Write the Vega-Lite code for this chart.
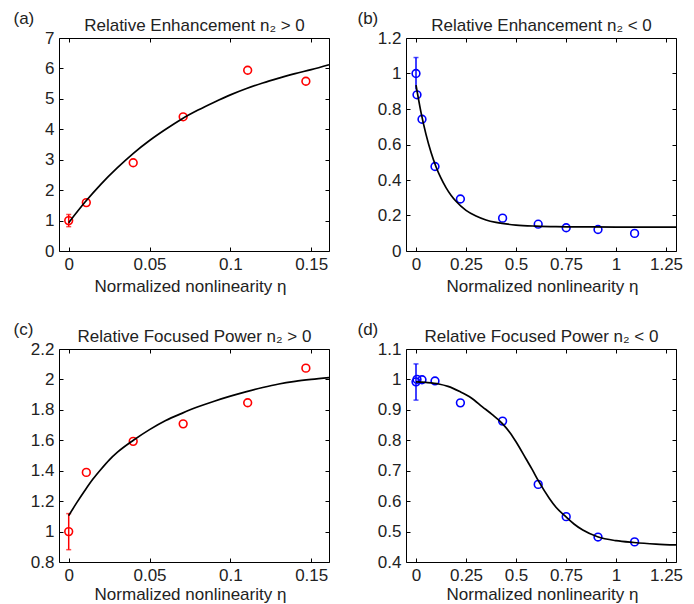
{
  "$schema": "https://vega.github.io/schema/vega-lite/v6.json",
  "background": "white",
  "padding": {"left": 12, "top": 8, "right": 0, "bottom": 0},
  "columns": 2,
  "spacing": {"row": 98, "column": 77},
  "bounds": "flush",
  "datasets": {
    "a_pts": [{"x": 0, "y": 1.0}, {"x": 0.0109, "y": 1.59}, {"x": 0.0399, "y": 2.9}, {"x": 0.0708, "y": 4.41}, {"x": 0.1107, "y": 5.94}, {"x": 0.1467, "y": 5.58}],
    "a_err": [{"x": 0, "lo": 0.8, "hi": 1.2}],
    "a_fit": [{"x": 0, "y": 0.93}, {"x": 0.01, "y": 1.6}, {"x": 0.02, "y": 2.2}, {"x": 0.03, "y": 2.73}, {"x": 0.04, "y": 3.21}, {"x": 0.05, "y": 3.63}, {"x": 0.06, "y": 4.0}, {"x": 0.07, "y": 4.34}, {"x": 0.08, "y": 4.63}, {"x": 0.09, "y": 4.89}, {"x": 0.1, "y": 5.13}, {"x": 0.11, "y": 5.34}, {"x": 0.12, "y": 5.52}, {"x": 0.13, "y": 5.68}, {"x": 0.14, "y": 5.83}, {"x": 0.15, "y": 5.96}, {"x": 0.161, "y": 6.12}],
    "b_pts": [{"x": 0, "y": 1.0}, {"x": 0.005, "y": 0.88}, {"x": 0.03, "y": 0.742}, {"x": 0.095, "y": 0.476}, {"x": 0.222, "y": 0.293}, {"x": 0.433, "y": 0.185}, {"x": 0.611, "y": 0.151}, {"x": 0.751, "y": 0.131}, {"x": 0.91, "y": 0.121}, {"x": 1.093, "y": 0.099}],
    "b_err": [{"x": 0, "lo": 0.91, "hi": 1.09}],
    "b_fit": [{"x": 0, "y": 0.935}, {"x": 0.025, "y": 0.781}, {"x": 0.05, "y": 0.657}, {"x": 0.075, "y": 0.556}, {"x": 0.1, "y": 0.475}, {"x": 0.125, "y": 0.41}, {"x": 0.15, "y": 0.357}, {"x": 0.175, "y": 0.314}, {"x": 0.2, "y": 0.28}, {"x": 0.25, "y": 0.229}, {"x": 0.3, "y": 0.197}, {"x": 0.35, "y": 0.175}, {"x": 0.4, "y": 0.161}, {"x": 0.5, "y": 0.146}, {"x": 0.6, "y": 0.14}, {"x": 0.7, "y": 0.137}, {"x": 0.8, "y": 0.136}, {"x": 1.0, "y": 0.135}, {"x": 1.3, "y": 0.135}],
    "c_pts": [{"x": 0, "y": 1.0}, {"x": 0.0109, "y": 1.389}, {"x": 0.0399, "y": 1.593}, {"x": 0.0708, "y": 1.708}, {"x": 0.1107, "y": 1.847}, {"x": 0.1467, "y": 2.074}],
    "c_err": [{"x": 0, "lo": 0.881, "hi": 1.118}],
    "c_fit": [{"x": 0, "y": 1.105}, {"x": 0.005, "y": 1.19}, {"x": 0.01, "y": 1.27}, {"x": 0.015, "y": 1.345}, {"x": 0.02, "y": 1.41}, {"x": 0.025, "y": 1.47}, {"x": 0.03, "y": 1.52}, {"x": 0.04, "y": 1.6}, {"x": 0.05, "y": 1.67}, {"x": 0.06, "y": 1.73}, {"x": 0.07, "y": 1.777}, {"x": 0.08, "y": 1.82}, {"x": 0.09, "y": 1.857}, {"x": 0.1, "y": 1.89}, {"x": 0.11, "y": 1.92}, {"x": 0.12, "y": 1.947}, {"x": 0.13, "y": 1.97}, {"x": 0.14, "y": 1.987}, {"x": 0.15, "y": 2.0}, {"x": 0.161, "y": 2.012}],
    "d_pts": [{"x": 0, "y": 0.992}, {"x": 0.005, "y": 1.0}, {"x": 0.03, "y": 0.999}, {"x": 0.095, "y": 0.995}, {"x": 0.222, "y": 0.923}, {"x": 0.433, "y": 0.863}, {"x": 0.611, "y": 0.655}, {"x": 0.751, "y": 0.549}, {"x": 0.91, "y": 0.482}, {"x": 1.093, "y": 0.466}],
    "d_err": [{"x": 0, "lo": 0.932, "hi": 1.051}],
    "d_fit": [{"x": 0, "y": 0.992}, {"x": 0.05, "y": 0.99}, {"x": 0.114, "y": 0.985}, {"x": 0.16, "y": 0.977}, {"x": 0.219, "y": 0.96}, {"x": 0.275, "y": 0.94}, {"x": 0.332, "y": 0.91}, {"x": 0.38, "y": 0.885}, {"x": 0.432, "y": 0.855}, {"x": 0.47, "y": 0.825}, {"x": 0.5, "y": 0.795}, {"x": 0.549, "y": 0.74}, {"x": 0.58, "y": 0.705}, {"x": 0.61, "y": 0.669}, {"x": 0.667, "y": 0.609}, {"x": 0.7, "y": 0.58}, {"x": 0.749, "y": 0.549}, {"x": 0.79, "y": 0.525}, {"x": 0.834, "y": 0.505}, {"x": 0.908, "y": 0.483}, {"x": 1.0, "y": 0.47}, {"x": 1.09, "y": 0.464}, {"x": 1.2, "y": 0.459}, {"x": 1.3, "y": 0.456}]
  },
  "concat": [
    {
      "width": 270, "height": 213,
      "layer": [
        {"data": {"name": "a_err"}, "mark": {"type": "rule", "color": "#ff0000", "strokeWidth": 1.5}, "encoding": {"x": {"field": "x", "type": "quantitative", "axis": null}, "y": {"field": "lo", "type": "quantitative", "axis": null}, "y2": {"field": "hi"}}},
        {"data": {"name": "a_err"}, "mark": {"type": "tick", "orient": "horizontal", "color": "#ff0000", "size": 5, "thickness": 1.5}, "encoding": {"x": {"field": "x", "type": "quantitative", "axis": null}, "y": {"field": "lo", "type": "quantitative", "axis": null}}},
        {"data": {"name": "a_err"}, "mark": {"type": "tick", "orient": "horizontal", "color": "#ff0000", "size": 5, "thickness": 1.5}, "encoding": {"x": {"field": "x", "type": "quantitative", "axis": null}, "y": {"field": "hi", "type": "quantitative", "axis": null}}},
        {"data": {"name": "a_pts"}, "mark": {"type": "point", "shape": "circle", "filled": false, "color": "#ff0000", "size": 60, "strokeWidth": 1.6, "opacity": 1}, "encoding": {"x": {"field": "x", "type": "quantitative", "axis": null}, "y": {"field": "y", "type": "quantitative", "axis": null}}},
        {"data": {"name": "a_fit"}, "mark": {"type": "line", "color": "black", "strokeWidth": 1.7, "interpolate": "monotone"},
         "encoding": {
           "x": {"field": "x", "type": "quantitative", "scale": {"domain": [-0.006, 0.161], "nice": false, "zero": false}, "axis": {"orient": "bottom", "values": [0, 0.05, 0.1, 0.15], "format": ".3~g", "title": "Normalized nonlinearity η", "titleX": 131, "titleY": 40, "titleAlign": "center", "titleBaseline": "alphabetic"}},
           "y": {"field": "y", "type": "quantitative", "scale": {"domain": [0, 7], "nice": false, "zero": false}, "axis": {"orient": "left", "values": [0, 1, 2, 3, 4, 5, 6, 7], "format": ".3~g", "title": "(a)", "titleAngle": 0, "titleX": -46, "titleY": -15, "titleAlign": "left", "titleBaseline": "alphabetic"}}
         }},
        {"data": {"name": "a_pts"}, "mark": {"type": "point", "opacity": 0}, "encoding": {"x": {"field": "x", "type": "quantitative", "axis": {"orient": "top", "values": [0, 0.05, 0.1, 0.15], "labels": false, "title": "Relative Enhancement n₂ > 0", "titleX": 135, "titleY": -7.5, "titleAlign": "center", "titleBaseline": "alphabetic"}}, "y": {"field": "y", "type": "quantitative", "axis": {"orient": "right", "values": [0, 1, 2, 3, 4, 5, 6, 7], "labels": false, "title": null}}}}
      ],
      "resolve": {"axis": {"x": "independent", "y": "independent"}}
    },
    {
      "width": 270, "height": 213,
      "layer": [
        {"data": {"name": "b_err"}, "mark": {"type": "rule", "color": "#0000ff", "strokeWidth": 1.5}, "encoding": {"x": {"field": "x", "type": "quantitative", "axis": null}, "y": {"field": "lo", "type": "quantitative", "axis": null}, "y2": {"field": "hi"}}},
        {"data": {"name": "b_err"}, "mark": {"type": "tick", "orient": "horizontal", "color": "#0000ff", "size": 5, "thickness": 1.5}, "encoding": {"x": {"field": "x", "type": "quantitative", "axis": null}, "y": {"field": "hi", "type": "quantitative", "axis": null}}},
        {"data": {"name": "b_pts"}, "mark": {"type": "point", "shape": "circle", "filled": false, "color": "#0000ff", "size": 60, "strokeWidth": 1.6, "opacity": 1}, "encoding": {"x": {"field": "x", "type": "quantitative", "axis": null}, "y": {"field": "y", "type": "quantitative", "axis": null}}},
        {"data": {"name": "b_fit"}, "mark": {"type": "line", "color": "black", "strokeWidth": 1.7, "interpolate": "monotone"},
         "encoding": {
           "x": {"field": "x", "type": "quantitative", "scale": {"domain": [-0.05, 1.3], "nice": false, "zero": false}, "axis": {"orient": "bottom", "values": [0, 0.25, 0.5, 0.75, 1, 1.25], "format": ".3~g", "title": "Normalized nonlinearity η", "titleX": 136, "titleY": 40, "titleAlign": "center", "titleBaseline": "alphabetic"}},
           "y": {"field": "y", "type": "quantitative", "scale": {"domain": [0, 1.2], "nice": false, "zero": false}, "axis": {"orient": "left", "values": [0, 0.2, 0.4, 0.6, 0.8, 1, 1.2], "format": ".3~g", "title": "(b)", "titleAngle": 0, "titleX": -49, "titleY": -15, "titleAlign": "left", "titleBaseline": "alphabetic"}}
         }},
        {"data": {"name": "b_pts"}, "mark": {"type": "point", "opacity": 0}, "encoding": {"x": {"field": "x", "type": "quantitative", "axis": {"orient": "top", "values": [0, 0.25, 0.5, 0.75, 1, 1.25], "labels": false, "title": "Relative Enhancement n₂ < 0", "titleX": 135, "titleY": -7.5, "titleAlign": "center", "titleBaseline": "alphabetic"}}, "y": {"field": "y", "type": "quantitative", "axis": {"orient": "right", "values": [0, 0.2, 0.4, 0.6, 0.8, 1, 1.2], "labels": false, "title": null}}}}
      ],
      "resolve": {"axis": {"x": "independent", "y": "independent"}}
    },
    {
      "width": 270, "height": 213,
      "layer": [
        {"data": {"name": "c_err"}, "mark": {"type": "rule", "color": "#ff0000", "strokeWidth": 1.5}, "encoding": {"x": {"field": "x", "type": "quantitative", "axis": null}, "y": {"field": "lo", "type": "quantitative", "axis": null}, "y2": {"field": "hi"}}},
        {"data": {"name": "c_err"}, "mark": {"type": "tick", "orient": "horizontal", "color": "#ff0000", "size": 5, "thickness": 1.5}, "encoding": {"x": {"field": "x", "type": "quantitative", "axis": null}, "y": {"field": "lo", "type": "quantitative", "axis": null}}},
        {"data": {"name": "c_err"}, "mark": {"type": "tick", "orient": "horizontal", "color": "#ff0000", "size": 5, "thickness": 1.5}, "encoding": {"x": {"field": "x", "type": "quantitative", "axis": null}, "y": {"field": "hi", "type": "quantitative", "axis": null}}},
        {"data": {"name": "c_pts"}, "mark": {"type": "point", "shape": "circle", "filled": false, "color": "#ff0000", "size": 60, "strokeWidth": 1.6, "opacity": 1}, "encoding": {"x": {"field": "x", "type": "quantitative", "axis": null}, "y": {"field": "y", "type": "quantitative", "axis": null}}},
        {"data": {"name": "c_fit"}, "mark": {"type": "line", "color": "black", "strokeWidth": 1.7, "interpolate": "monotone"},
         "encoding": {
           "x": {"field": "x", "type": "quantitative", "scale": {"domain": [-0.006, 0.161], "nice": false, "zero": false}, "axis": {"orient": "bottom", "values": [0, 0.05, 0.1, 0.15], "format": ".3~g", "title": "Normalized nonlinearity η", "titleX": 131, "titleY": 37, "titleAlign": "center", "titleBaseline": "alphabetic"}},
           "y": {"field": "y", "type": "quantitative", "scale": {"domain": [0.8, 2.2], "nice": false, "zero": false}, "axis": {"orient": "left", "values": [0.8, 1, 1.2, 1.4, 1.6, 1.8, 2, 2.2], "format": ".3~g", "title": "(c)", "titleAngle": 0, "titleX": -46, "titleY": -15, "titleAlign": "left", "titleBaseline": "alphabetic"}}
         }},
        {"data": {"name": "c_pts"}, "mark": {"type": "point", "opacity": 0}, "encoding": {"x": {"field": "x", "type": "quantitative", "axis": {"orient": "top", "values": [0, 0.05, 0.1, 0.15], "labels": false, "title": "Relative Focused Power n₂ > 0", "titleX": 135, "titleY": -7.5, "titleAlign": "center", "titleBaseline": "alphabetic"}}, "y": {"field": "y", "type": "quantitative", "axis": {"orient": "right", "values": [0.8, 1, 1.2, 1.4, 1.6, 1.8, 2, 2.2], "labels": false, "title": null}}}}
      ],
      "resolve": {"axis": {"x": "independent", "y": "independent"}}
    },
    {
      "width": 270, "height": 213,
      "layer": [
        {"data": {"name": "d_err"}, "mark": {"type": "rule", "color": "#0000ff", "strokeWidth": 1.5}, "encoding": {"x": {"field": "x", "type": "quantitative", "axis": null}, "y": {"field": "lo", "type": "quantitative", "axis": null}, "y2": {"field": "hi"}}},
        {"data": {"name": "d_err"}, "mark": {"type": "tick", "orient": "horizontal", "color": "#0000ff", "size": 5, "thickness": 1.5}, "encoding": {"x": {"field": "x", "type": "quantitative", "axis": null}, "y": {"field": "lo", "type": "quantitative", "axis": null}}},
        {"data": {"name": "d_err"}, "mark": {"type": "tick", "orient": "horizontal", "color": "#0000ff", "size": 5, "thickness": 1.5}, "encoding": {"x": {"field": "x", "type": "quantitative", "axis": null}, "y": {"field": "hi", "type": "quantitative", "axis": null}}},
        {"data": {"name": "d_pts"}, "mark": {"type": "point", "shape": "circle", "filled": false, "color": "#0000ff", "size": 60, "strokeWidth": 1.6, "opacity": 1}, "encoding": {"x": {"field": "x", "type": "quantitative", "axis": null}, "y": {"field": "y", "type": "quantitative", "axis": null}}},
        {"data": {"name": "d_fit"}, "mark": {"type": "line", "color": "black", "strokeWidth": 1.7, "interpolate": "monotone"},
         "encoding": {
           "x": {"field": "x", "type": "quantitative", "scale": {"domain": [-0.05, 1.3], "nice": false, "zero": false}, "axis": {"orient": "bottom", "values": [0, 0.25, 0.5, 0.75, 1, 1.25], "format": ".3~g", "title": "Normalized nonlinearity η", "titleX": 136, "titleY": 37, "titleAlign": "center", "titleBaseline": "alphabetic"}},
           "y": {"field": "y", "type": "quantitative", "scale": {"domain": [0.4, 1.1], "nice": false, "zero": false}, "axis": {"orient": "left", "values": [0.4, 0.5, 0.6, 0.7, 0.8, 0.9, 1, 1.1], "format": ".3~g", "title": "(d)", "titleAngle": 0, "titleX": -49, "titleY": -15, "titleAlign": "left", "titleBaseline": "alphabetic"}}
         }},
        {"data": {"name": "d_pts"}, "mark": {"type": "point", "opacity": 0}, "encoding": {"x": {"field": "x", "type": "quantitative", "axis": {"orient": "top", "values": [0, 0.25, 0.5, 0.75, 1, 1.25], "labels": false, "title": "Relative Focused Power n₂ < 0", "titleX": 135, "titleY": -7.5, "titleAlign": "center", "titleBaseline": "alphabetic"}}, "y": {"field": "y", "type": "quantitative", "axis": {"orient": "right", "values": [0.4, 0.5, 0.6, 0.7, 0.8, 0.9, 1, 1.1], "labels": false, "title": null}}}}
      ],
      "resolve": {"axis": {"x": "independent", "y": "independent"}}
    }
  ],
  "config": {
    "font": "Liberation Sans",
    "view": {"stroke": "black", "strokeWidth": 1},
    "axis": {"labelFont": "Liberation Sans", "labelFontSize": 17, "labelColor": "#222", "titleFont": "Liberation Sans", "titleFontSize": 17, "titleFontWeight": "normal", "titleColor": "#222", "tickColor": "black", "tickSize": -4, "tickWidth": 1, "domain": false, "grid": false, "labelPadding": 9, "labelFlush": false, "labelOverlap": false, "labelBound": false}
  }
}
